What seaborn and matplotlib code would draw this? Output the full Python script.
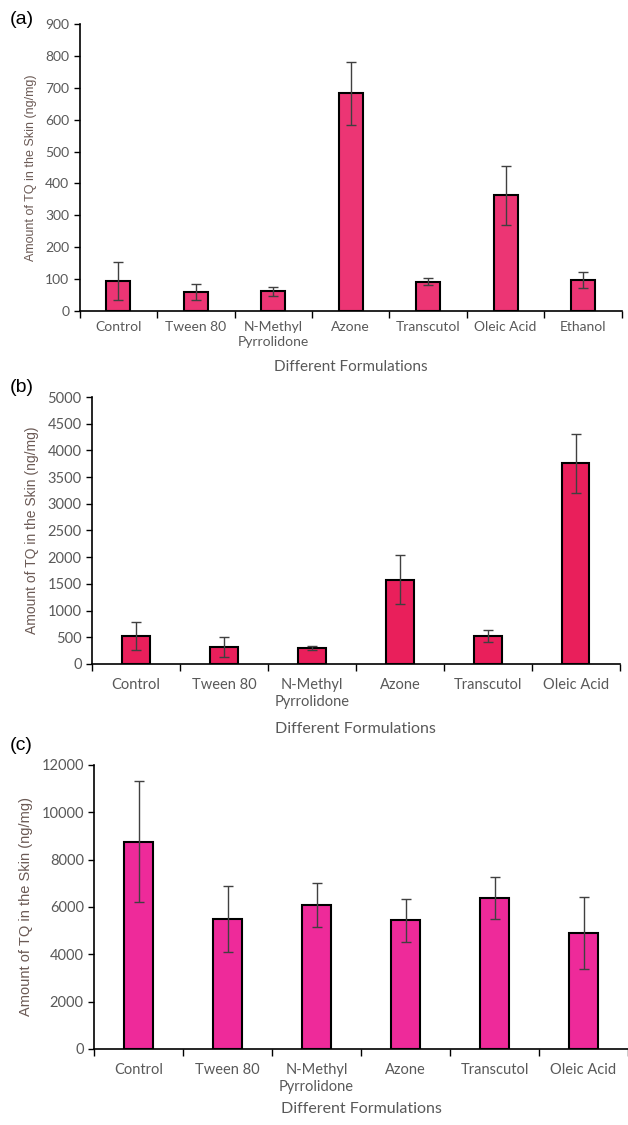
import matplotlib
matplotlib.use("Agg")
import matplotlib.pyplot as plt
import seaborn as sns
import pandas as pd
import numpy as np

# ---- data ----
cats_a = ["Control", "Tween 80", "N-Methyl\nPyrrolidone", "Azone", "Transcutol", "Oleic Acid", "Ethanol"]
vals_a = [95, 58, 62, 682, 92, 363, 97]
err_a = [60, 25, 14, 98, 11, 93, 24]

cats_b = ["Control", "Tween 80", "N-Methyl\nPyrrolidone", "Azone", "Transcutol", "Oleic Acid"]
vals_b = [525, 325, 300, 1575, 525, 3755]
err_b = [270, 185, 45, 460, 105, 545]

cats_c = ["Control", "Tween 80", "N-Methyl\nPyrrolidone", "Azone", "Transcutol", "Oleic Acid"]
vals_c = [8765, 5490, 6090, 5430, 6375, 4910]
err_c = [2570, 1400, 930, 890, 900, 1520]

yticks_a = [0, 100, 200, 300, 400, 500, 600, 700, 800, 900]
yticks_b = [0, 500, 1000, 1500, 2000, 2500, 3000, 3500, 4000, 4500, 5000]
yticks_c = [0, 2000, 4000, 6000, 8000, 10000, 12000]

sns.set_theme(style="white")
plt.rcParams['font.family'] = ['Lato', 'DejaVu Sans']

fig = plt.figure(figsize=(6.28, 11.25), dpi=100)

panels = [
    dict(cats=cats_a, vals=vals_a, err=err_a, ticks=yticks_a, color="#EC3574",
         rect=[0.127, 0.7236, 0.863, 0.2551], label="(a)", ly=20, width=0.31,
         ylfs=9.0, xlfs=11, tfs=10, pad=7, lp=9),
    dict(cats=cats_b, vals=vals_b, err=err_b, ticks=yticks_b, color="#E91F5B",
         rect=[0.1465, 0.4098, 0.8405, 0.2373], label="(b)", ly=387, width=0.31,
         ylfs=10.0, xlfs=11.5, tfs=10.5, pad=10, lp=9),
    dict(cats=cats_c, vals=vals_c, err=err_c, ticks=yticks_c, color="#EE2A9A",
         rect=[0.150, 0.0676, 0.85, 0.2524], label="(c)", ly=746, width=0.33,
         ylfs=10.5, xlfs=11.5, tfs=10.5, pad=10, lp=6),
]

for p in panels:
    ax = fig.add_axes(p["rect"])
    df = pd.DataFrame({"cat": p["cats"], "val": p["vals"]})
    sns.barplot(data=df, x="cat", y="val", color=p["color"], saturation=1,
                edgecolor="black", linewidth=1.5, width=p["width"], errorbar=None, ax=ax)
    xs = [patch.get_x() + patch.get_width() / 2 for patch in ax.patches]
    ax.errorbar(xs, p["vals"], yerr=p["err"], fmt="none", ecolor="#404040",
                elinewidth=1.0, capsize=3.5, capthick=1.0)
    n = len(p["cats"])
    ax.set_xlim(-0.5, n - 0.5)
    ax.set_ylim(0, p["ticks"][-1])
    ax.set_yticks(p["ticks"])
    ax.set_xticks(np.arange(n))
    ax.set_xticklabels(p["cats"], fontsize=p["tfs"], color="#595959", linespacing=1.3)
    ax.tick_params(axis="x", length=0, pad=p["pad"])
    ax.tick_params(axis="y", labelsize=p["tfs"], labelcolor="#595959", length=4,
                   width=1, color="black", direction="out", left=True)
    # boundary ticks on x axis
    ax.set_xticks(np.arange(n + 1) - 0.5, minor=True)
    ax.tick_params(axis="x", which="minor", length=5, width=1, color="black",
                   direction="out", bottom=True)
    for s in ["top", "right"]:
        ax.spines[s].set_visible(False)
    for s in ["left", "bottom"]:
        ax.spines[s].set_color("black")
        ax.spines[s].set_linewidth(1.2)
    ax.set_xlabel("Different Formulations", fontsize=p["xlfs"], color="#595959", labelpad=p["lp"])
    ax.set_ylabel("Amount of TQ in the Skin (ng/mg)", fontsize=p["ylfs"], color="#6b5a55",
                  family=["Liberation Sans", "DejaVu Sans"], labelpad=6)
    ax.grid(False)
    fig.text(10 / 628, 1 - p["ly"] / 1125, p["label"], fontsize=14,
             family=["Liberation Sans", "DejaVu Sans"], va="center", ha="left", color="black")

fig.savefig("out.png", dpi=100)
